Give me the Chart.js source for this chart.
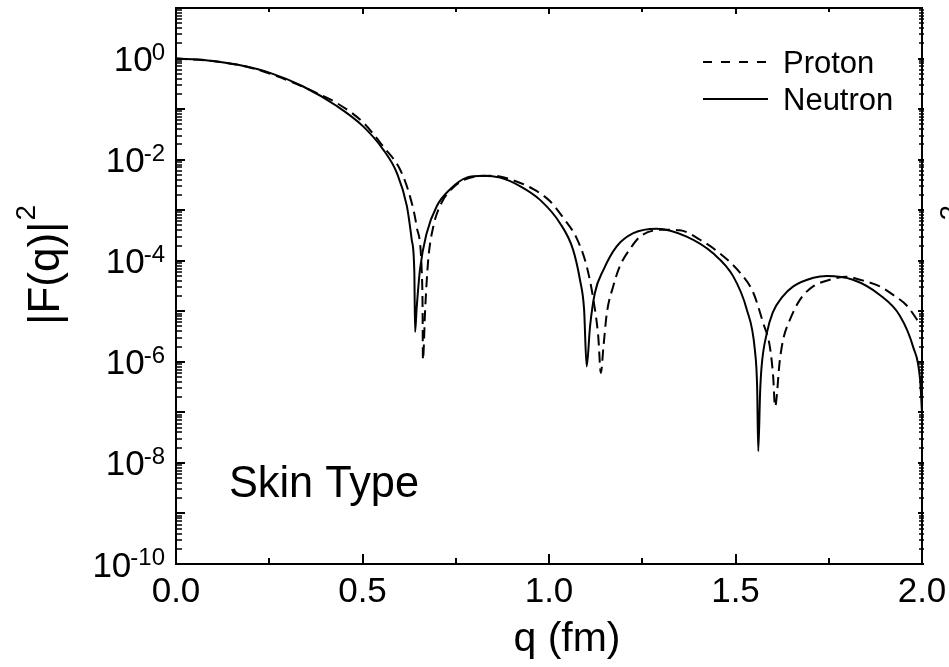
<!DOCTYPE html>
<html><head><meta charset="utf-8">
<script src="https://cdn.jsdelivr.net/npm/chart.js@4/dist/chart.umd.min.js"></script>
<style>html,body{margin:0;padding:0;background:#fff;overflow:hidden}canvas{display:block}</style>
</head><body>
<canvas id="c" width="949" height="667"></canvas>
<script>
// ---- data ----
const neutronQ = [0.000,0.080,0.163,0.252,0.341,0.431,0.501,0.555,0.592,0.619,0.632,0.639,0.641,0.645,0.654,0.672,0.699,0.735,0.779,0.824,0.869,0.922,0.976,1.029,1.064,1.083,1.094,1.101,1.110,1.123,1.146,1.181,1.226,1.289,1.369,1.440,1.494,1.530,1.552,1.558,1.561,1.566,1.570,1.584,1.600,1.625,1.655,1.709,1.745,1.815,1.887,1.941,1.976,1.995,2.000];
const neutronF = [1.0,0.93,0.76,0.52,0.28,0.115,0.046,0.016,5.5e-3,1.2e-3,2.6e-4,5.8e-5,3.9e-6,1.1e-5,6.6e-5,3.5e-4,1.2e-3,2.6e-3,4.4e-3,4.8e-3,4.4e-3,3.0e-3,1.6e-3,5.6e-4,1.7e-4,4.2e-5,1.1e-5,8.1e-7,5.0e-6,2.3e-5,6.6e-5,1.9e-4,3.5e-4,4.3e-4,3.0e-4,1.4e-4,4.9e-5,1.1e-5,1.7e-6,3.2e-7,1.7e-8,2.5e-7,8.1e-7,3.7e-6,9.5e-6,1.9e-5,3.1e-5,4.6e-5,5.0e-5,4.2e-5,2.1e-5,8.1e-6,2.0e-6,4.4e-7,9.8e-8];
const protonQ = [0.000,0.100,0.200,0.306,0.368,0.431,0.502,0.556,0.601,0.627,0.645,0.659,0.661,0.662,0.668,0.676,0.690,0.712,0.743,0.788,0.851,0.904,0.958,1.003,1.038,1.074,1.101,1.119,1.132,1.139,1.146,1.155,1.172,1.190,1.217,1.244,1.306,1.351,1.405,1.458,1.512,1.548,1.574,1.592,1.601,1.606,1.619,1.628,1.646,1.673,1.708,1.753,1.798,1.834,1.887,1.923,1.959,2.000];
const protonF = [1.0,0.89,0.66,0.355,0.224,0.132,0.054,0.018,6.3e-3,1.9e-3,4.8e-4,5.8e-5,1.3e-5,1.1e-6,1.1e-5,1.0e-4,4.8e-4,1.4e-3,2.8e-3,4.4e-3,4.8e-3,3.9e-3,2.6e-3,1.5e-3,7.1e-4,2.8e-4,7.8e-5,1.7e-5,3.2e-6,6.0e-7,2.0e-6,9.1e-6,3.1e-5,7.8e-5,1.7e-4,3.0e-4,4.1e-4,4.0e-4,2.6e-4,1.4e-4,5.8e-5,2.3e-5,5.9e-6,2.0e-6,5.1e-7,1.3e-7,1.1e-6,2.8e-6,6.8e-6,1.7e-5,3.1e-5,4.2e-5,4.8e-5,4.2e-5,3.1e-5,2.1e-5,1.3e-5,4.9e-6];
const seriesNames = ['Proton','Neutron'];
const xTickValues = [0, 0.5, 1.0, 1.5, 2.0];
const xTickLabels = ['0.0','0.5','1.0','1.5','2.0'];
const yTickExponents = [0,-2,-4,-6,-8,-10];
const xTitle = 'q (fm)';
const yTitle = '|F(q)|';
const yTitleSup = '2';
const panelText = 'Skin Type';

const FONT = '"Liberation Sans", Arial, Helvetica, sans-serif';

const framePlugin = {
  id: 'frame',
  afterDraw(chart) {
    const ctx = chart.ctx;
    const {left, right, top, bottom} = chart.chartArea;
    const xs = chart.scales.x, ys = chart.scales.y;
    ctx.save();
    ctx.strokeStyle = '#000';
    ctx.fillStyle = '#000';
    ctx.lineWidth = 2;
    ctx.strokeRect(left, top, right - left, bottom - top);
    // x ticks (inward, bottom and top)
    for (let i = 0; i <= 8; i++) {
      const v = i * 0.25;
      const px = Math.round(xs.getPixelForValue(v));
      const major = i % 2 === 0;
      const len = major ? 10 : 6;
      ctx.lineWidth = 2;
      ctx.beginPath();
      ctx.moveTo(px, bottom); ctx.lineTo(px, bottom - len);
      ctx.moveTo(px, top); ctx.lineTo(px, top + (major ? 6 : 4));
      ctx.stroke();
    }
    // y ticks (log, inward, left and right)
    for (let e = -10; e <= 0; e++) {
      for (let m = 1; m <= 9; m++) {
        const v = m * Math.pow(10, e);
        const py = Math.round(ys.getPixelForValue(v));
        if (py < top - 0.5) continue;
        const major = m === 1;
        ctx.lineWidth = major ? 2 : 1.5;
        ctx.beginPath();
        ctx.moveTo(left, py); ctx.lineTo(left + (major ? 9 : 6), py);
        ctx.moveTo(right + 2, py); ctx.lineTo(right - (major ? 4 : 3), py);
        ctx.stroke();
      }
    }
    {
      const py = Math.round(ys.getPixelForValue(10));
      ctx.beginPath(); ctx.moveTo(left, py); ctx.lineTo(left + 9, py); ctx.stroke();
    }
    // y tick labels 10^n
    ctx.textBaseline = 'alphabetic';
    yTickExponents.forEach(ex => {
      const py = ys.getPixelForValue(Math.pow(10, ex));
      const expStr = String(ex);
      ctx.font = '24px ' + FONT;
      const we = ctx.measureText(expStr).width;
      const xr = 165;
      ctx.textAlign = 'left';
      ctx.fillText(expStr, xr - we, py + 1);
      ctx.font = '35px ' + FONT;
      ctx.textAlign = 'right';
      ctx.fillText('10', xr - we + 1, py + 12.5);
    });
    // x tick labels
    ctx.font = '35px ' + FONT;
    ctx.textAlign = 'center';
    xTickValues.forEach((v, i) => {
      ctx.fillText(xTickLabels[i], xs.getPixelForValue(v), 602);
    });
    // x title
    ctx.font = '41px ' + FONT;
    ctx.fillText(xTitle, 567, 651);
    // y title (rotated) + clipped copy at right edge
    const drawYTitle = (bx, by) => {
      ctx.save();
      ctx.translate(bx, by);
      ctx.rotate(-Math.PI / 2);
      ctx.textAlign = 'left';
      ctx.font = '44px ' + FONT;
      ctx.fillText(yTitle, 0, 0);
      const w = ctx.measureText(yTitle).width;
      ctx.font = '28px ' + FONT;
      ctx.fillText(yTitleSup, w + 1, -24);
      ctx.restore();
    };
    drawYTitle(59, 325);
    drawYTitle(59 + 924, 325);
    // panel text (fit to measured width)
    ctx.font = '45px ' + FONT;
    ctx.textAlign = 'left';
    const pw = ctx.measureText(panelText).width;
    ctx.save();
    ctx.translate(229, 497);
    ctx.scale(190 / pw, 1);
    ctx.fillText(panelText, 0, 0);
    ctx.restore();
    // legend
    ctx.font = '31px ' + FONT;
    ctx.fillText(seriesNames[0], 783, 73);
    ctx.fillText(seriesNames[1], 783, 110);
    ctx.lineWidth = 2;
    ctx.setLineDash([9, 9]);
    ctx.beginPath(); ctx.moveTo(703, 62); ctx.lineTo(768, 62); ctx.stroke();
    ctx.setLineDash([]);
    ctx.beginPath(); ctx.moveTo(703, 99); ctx.lineTo(768, 99); ctx.stroke();
    ctx.restore();
  }
};

new Chart(document.getElementById('c'), {
  type: 'line',
  data: {
    datasets: [
      {
        label: seriesNames[0],
        data: protonQ.map((q, i) => ({x: q, y: protonF[i]})),
        borderColor: '#000', borderWidth: 2, borderDash: [11, 6],
        pointRadius: 0, fill: false, cubicInterpolationMode: 'monotone'
      },
      {
        label: seriesNames[1],
        data: neutronQ.map((q, i) => ({x: q, y: neutronF[i]})),
        borderColor: '#000', borderWidth: 2,
        pointRadius: 0, fill: false, cubicInterpolationMode: 'monotone'
      }
    ]
  },
  options: {
    responsive: false,
    animation: false,
    devicePixelRatio: 1,
    layout: {padding: {top: 8, right: 27, left: 0, bottom: 0}},
    plugins: {legend: {display: false}, tooltip: {enabled: false}},
    scales: {
      x: {
        type: 'linear', min: 0, max: 2,
        ticks: {display: false}, grid: {display: false}, border: {display: false},
        afterFit(s) { s.height = 103; }
      },
      y: {
        type: 'logarithmic', min: 1e-10, max: 10,
        ticks: {display: false}, grid: {display: false}, border: {display: false},
        afterFit(s) { s.width = 176; }
      }
    }
  },
  plugins: [framePlugin]
});
</script>
</body></html>
